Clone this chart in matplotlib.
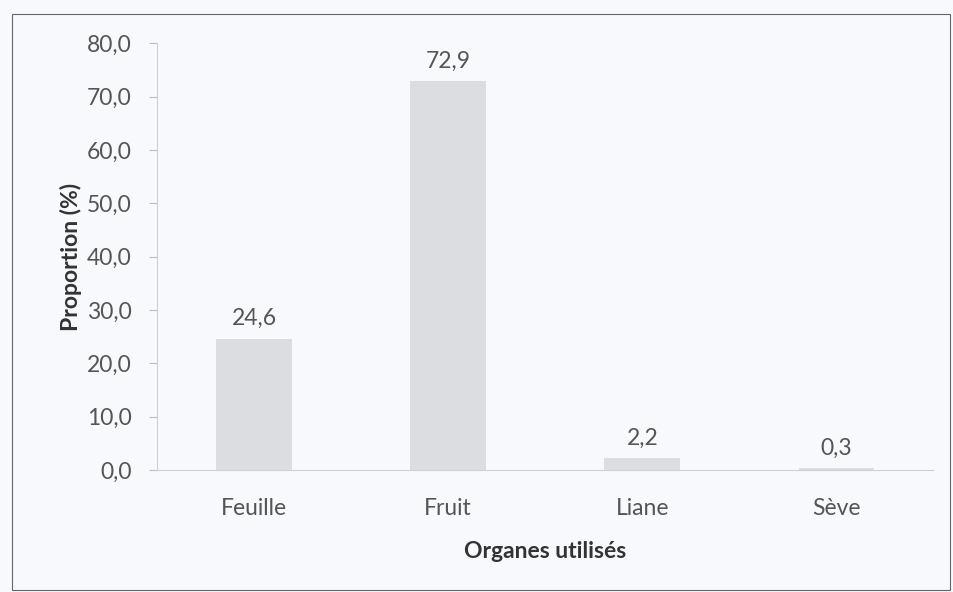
import matplotlib

matplotlib.use("Agg")
import matplotlib.pyplot as plt
from matplotlib.patches import Rectangle

categories = ["Feuille", "Fruit", "Liane", "Sève"]
proportions = [24.6, 72.9, 2.2, 0.3]
y_ticks = [0, 10, 20, 30, 40, 50, 60, 70, 80]

BG = "#f7f9fc"
BAR = "#dcdde0"
TXT = "#555555"
FS = 16.5

plt.rcParams["font.family"] = ["Lato", "DejaVu Sans"]


def fr(v):
    return f"{v:.1f}".replace(".", ",")


fig = plt.figure(figsize=(9.54, 5.92), dpi=100, facecolor=BG)
ax = fig.add_axes([0.1645, 0.206, 0.814, 0.721], facecolor=BG)

x = range(len(categories))
bars = ax.bar(x, proportions, width=0.39, color=BAR, edgecolor="none")
for b, v in zip(bars, proportions):
    ax.annotate(fr(v), (b.get_x() + b.get_width() / 2, v), xytext=(0, 7),
                textcoords="offset points", ha="center", va="bottom",
                fontsize=FS, color=TXT)

ax.set_xlim(-0.5, len(categories) - 0.5)
ax.set_ylim(0, 80)
ax.set_yticks(y_ticks)
ax.set_yticklabels([fr(t) for t in y_ticks], fontsize=FS, color=TXT)
ax.set_xticks(list(x))
ax.set_xticklabels(categories, fontsize=FS, color=TXT)
ax.tick_params(axis="x", length=0, pad=20)
ax.tick_params(axis="y", length=6, width=0.8, color="#bfbfbf", pad=12)

for s in ("top", "right"):
    ax.spines[s].set_visible(False)
ax.spines["left"].set_color("#d0d0d0")
ax.spines["bottom"].set_color("#d0d0d0")

ax.set_ylabel("Proportion (%)", fontsize=FS, fontweight="bold", color="#333333", labelpad=4)
ax.set_xlabel("Organes utilisés", fontsize=FS, fontweight="bold", color="#333333", labelpad=16)

# chart frame
fig.patches.append(Rectangle((12 / 954, 2 / 592), 938 / 954, 576 / 592,
                             transform=fig.transFigure, fill=False,
                             edgecolor="#666666", linewidth=0.8))

fig.savefig("out.png", dpi=100, facecolor=BG)
